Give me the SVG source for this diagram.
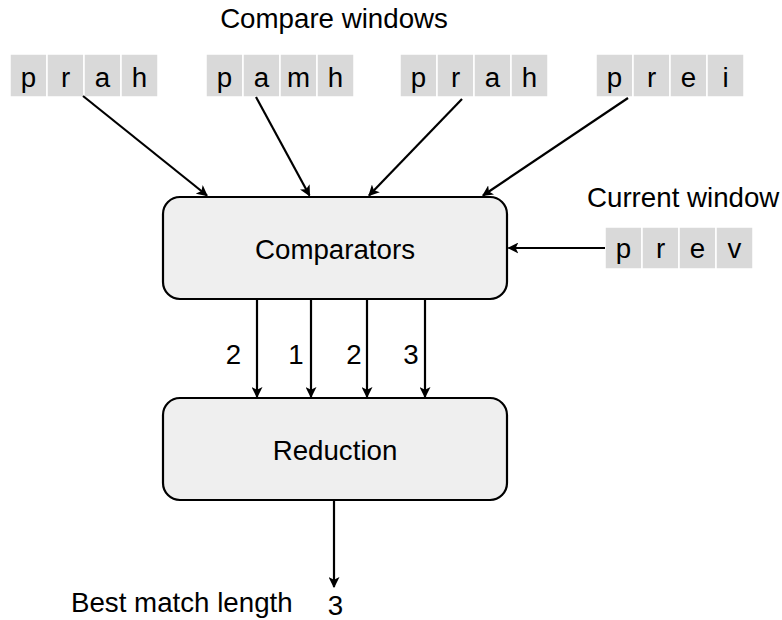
<svg xmlns="http://www.w3.org/2000/svg" width="782" height="620" viewBox="0 0 782 620">
<style>
text{font-family:"Liberation Sans",Arial,sans-serif;font-size:27.7px;fill:#000}
.c{text-anchor:middle}
.cell{fill:#d9d9d9;stroke:#fff;stroke-width:1.5}
.box{fill:#efefef;stroke:#000;stroke-width:2.2}
.ar{stroke:#000;stroke-width:2.2;fill:none;marker-end:url(#ah)}
</style>
<defs>
<marker id="ah" viewBox="0 0 10 10" refX="9" refY="5" markerWidth="5" markerHeight="5" orient="auto" markerUnits="strokeWidth">
<path d="M0,0 L10,5 L0,10 L2.5,5 z" fill="#000"/>
</marker>
</defs>
<rect width="782" height="620" fill="#fff"/>
<text x="334" y="28" class="c">Compare windows</text>
<g id="w1">
<rect class="cell" x="10" y="54" width="37" height="43"/><rect class="cell" x="47" y="54" width="37" height="43"/><rect class="cell" x="84" y="54" width="37" height="43"/><rect class="cell" x="121" y="54" width="37" height="43"/>
<text class="c" x="28.5" y="87">p</text><text class="c" x="65.5" y="87">r</text><text class="c" x="102.5" y="87">a</text><text class="c" x="139.5" y="87">h</text>
</g>
<g id="w2">
<rect class="cell" x="206" y="54" width="37" height="43"/><rect class="cell" x="243" y="54" width="37" height="43"/><rect class="cell" x="280" y="54" width="37" height="43"/><rect class="cell" x="317" y="54" width="37" height="43"/>
<text class="c" x="224.5" y="87">p</text><text class="c" x="261.5" y="87">a</text><text class="c" x="298.5" y="87">m</text><text class="c" x="335.5" y="87">h</text>
</g>
<g id="w3">
<rect class="cell" x="400" y="54" width="37" height="43"/><rect class="cell" x="437" y="54" width="37" height="43"/><rect class="cell" x="474" y="54" width="37" height="43"/><rect class="cell" x="511" y="54" width="37" height="43"/>
<text class="c" x="418.5" y="87">p</text><text class="c" x="455.5" y="87">r</text><text class="c" x="492.5" y="87">a</text><text class="c" x="529.5" y="87">h</text>
</g>
<g id="w4">
<rect class="cell" x="596" y="54" width="37" height="43"/><rect class="cell" x="633" y="54" width="37" height="43"/><rect class="cell" x="670" y="54" width="37" height="43"/><rect class="cell" x="707" y="54" width="37" height="43"/>
<text class="c" x="614.5" y="87">p</text><text class="c" x="651.5" y="87">r</text><text class="c" x="688.5" y="87">e</text><text class="c" x="725.5" y="87">i</text>
</g>
<g id="current">
<text x="587" y="207">Current window</text>
<rect class="cell" x="605" y="227" width="37" height="42"/><rect class="cell" x="642" y="227" width="37" height="42"/><rect class="cell" x="679" y="227" width="37" height="42"/><rect class="cell" x="716" y="227" width="37" height="42"/>
<text class="c" x="623.5" y="258">p</text><text class="c" x="660.5" y="258">r</text><text class="c" x="697.5" y="258">e</text><text class="c" x="734.5" y="258">v</text>
</g>
<g id="comparators">
<rect class="box" x="163" y="197" width="344" height="102" rx="17"/>
<text class="c" x="335" y="259">Comparators</text>
</g>
<g id="reduction">
<rect class="box" x="163" y="398" width="344" height="102" rx="17"/>
<text class="c" x="335" y="460">Reduction</text>
</g>
<g id="connectors">
<line class="ar" x1="83" y1="96" x2="207" y2="195.5"/>
<line class="ar" x1="256" y1="97" x2="309.5" y2="195.5"/>
<line class="ar" x1="462" y1="99" x2="369" y2="195.5"/>
<line class="ar" x1="628" y1="98" x2="483" y2="195.5"/>
<line class="ar" x1="605" y1="248" x2="508.5" y2="248"/>
<line class="ar" x1="257" y1="299" x2="257" y2="397"/>
<line class="ar" x1="311" y1="299" x2="311" y2="397"/>
<line class="ar" x1="367" y1="299" x2="367" y2="397"/>
<line class="ar" x1="425" y1="299" x2="425" y2="397"/>
<line class="ar" x1="334" y1="500" x2="334" y2="587"/>
<text class="c" x="233.5" y="364">2</text>
<text class="c" x="296" y="364">1</text>
<text class="c" x="354" y="364">2</text>
<text class="c" x="411" y="364">3</text>
</g>
<text x="71" y="612">Best match length</text>
<text class="c" x="335.5" y="615">3</text>
</svg>
